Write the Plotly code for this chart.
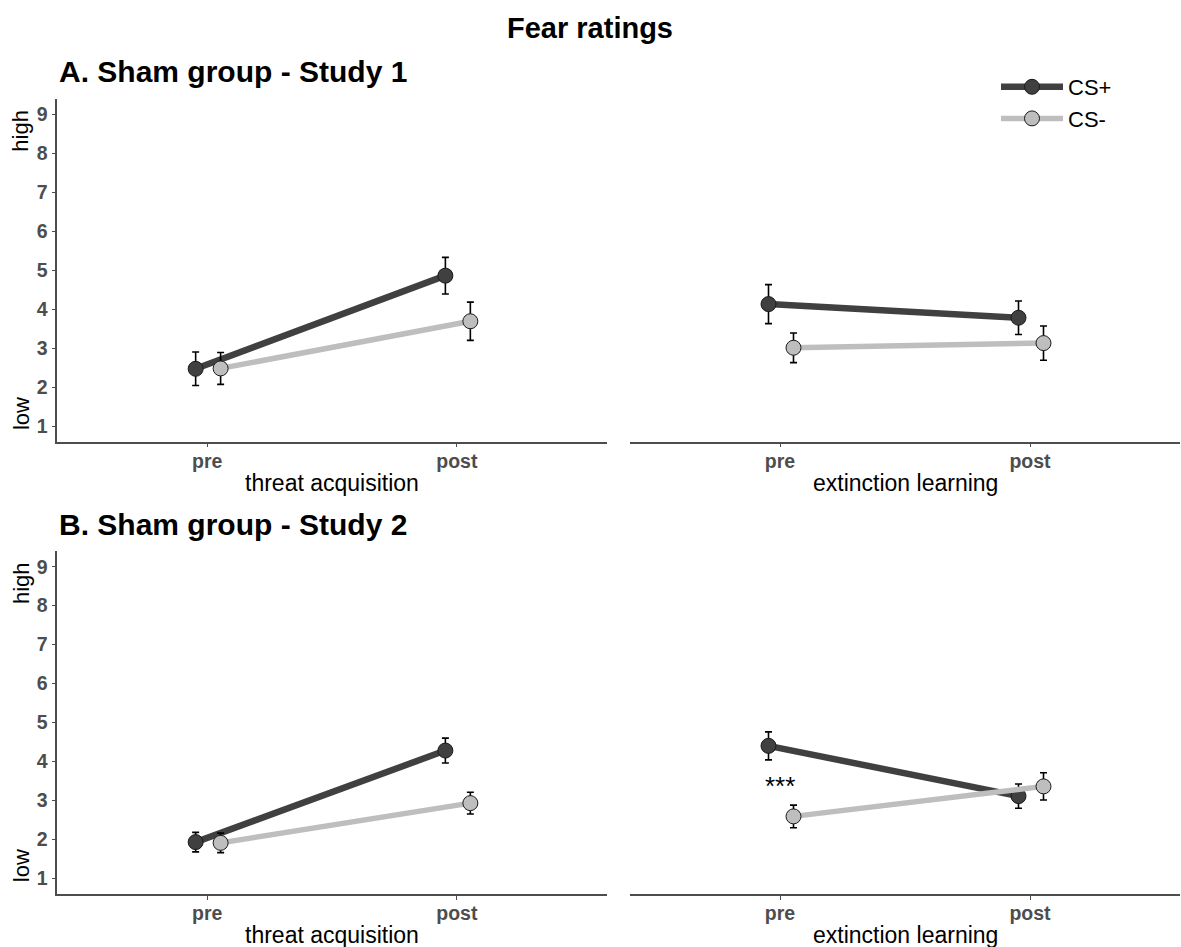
import plotly.graph_objects as go

# ---------------- data ----------------
phases = ["pre", "post"]
phase_pos = [1, 2]
conditions = ["CS+", "CS-"]

s1_acq_csp = [2.47, 4.86]
s1_acq_csp_err = [0.43, 0.47]
s1_acq_csm = [2.48, 3.69]
s1_acq_csm_err = [0.41, 0.49]

s1_ext_csp = [4.13, 3.78]
s1_ext_csp_err = [0.50, 0.43]
s1_ext_csm = [3.01, 3.13]
s1_ext_csm_err = [0.38, 0.44]

s2_acq_csp = [1.93, 4.28]
s2_acq_csp_err = [0.25, 0.32]
s2_acq_csm = [1.91, 2.93]
s2_acq_csm_err = [0.25, 0.28]

s2_ext_csp = [4.40, 3.11]
s2_ext_csp_err = [0.36, 0.31]
s2_ext_csm = [2.59, 3.36]
s2_ext_csm_err = [0.29, 0.35]

y_ticks = [1, 2, 3, 4, 5, 6, 7, 8, 9]
x_titles = ["threat acquisition", "extinction learning"]
panel_titles = ["A. Sham group - Study 1", "B. Sham group - Study 2"]
main_title = "Fear ratings"
signif_label = "***"
signif_y = 3.36

# ---------------- style ----------------
W, H = 1181, 947
FONT = "Liberation Sans, Arial, sans-serif"
DARK = "#404040"
LIGHT = "#BEBEBE"
AXC = "#4D4D4D"
dodge = {"CS+": -0.046, "CS-": 0.054}
colors = {"CS+": DARK, "CS-": LIGHT}
lwidth = {"CS+": 6.5, "CS-": 5.5}


def px_x(p):
    return p / W


def px_y(p):
    return 1 - p / H


# domains (from pixel geometry)
xdom = [[px_x(57.3), px_x(606.7)], [px_x(630), px_x(1180)]]
ydom = [[px_y(441.7), px_y(98.7)], [px_y(893.9), px_y(551.1)]]
xtitle_y = [483, 935]

fig = go.Figure()

panels = [
    (0, 0, s1_acq_csp, s1_acq_csp_err, s1_acq_csm, s1_acq_csm_err),
    (0, 1, s1_ext_csp, s1_ext_csp_err, s1_ext_csm, s1_ext_csm_err),
    (1, 0, s2_acq_csp, s2_acq_csp_err, s2_acq_csm, s2_acq_csm_err),
    (1, 1, s2_ext_csp, s2_ext_csp_err, s2_ext_csm, s2_ext_csm_err),
]

annotations = []
layout_axes = {}
for idx, (row, col, csp, csp_e, csm, csm_e) in enumerate(panels):
    n = idx + 1
    xa = "x" if n == 1 else f"x{n}"
    ya = "y" if n == 1 else f"y{n}"
    for cond, vals, errs in (("CS+", csp, csp_e), ("CS-", csm, csm_e)):
        fig.add_trace(go.Scatter(
            x=[p + dodge[cond] for p in phase_pos],
            y=vals,
            mode="lines+markers",
            name=cond,
            showlegend=(n == 1),
            line=dict(color=colors[cond], width=lwidth[cond]),
            marker=dict(size=15, color=colors[cond],
                        line=dict(color="#1a1a1a", width=1)),
            error_y=dict(type="data", array=errs, visible=True,
                         color="black", thickness=1.6, width=3.5),
            xaxis=xa, yaxis=ya,
            hoverinfo="skip",
        ))
    xkey = "xaxis" if n == 1 else f"xaxis{n}"
    ykey = "yaxis" if n == 1 else f"yaxis{n}"
    layout_axes[xkey] = dict(
        domain=xdom[col], anchor=ya, range=[0.4, 2.6],
        tickvals=phase_pos, ticktext=phases,
        showline=True, linecolor=AXC, linewidth=1.5,
        ticks="outside", ticklen=4, tickcolor=AXC, tickwidth=1.2,
        ticklabelstandoff=-3,
        tickfont=dict(family=FONT, size=19.5, color=AXC, weight="bold"),
        showgrid=False, zeroline=False, fixedrange=True,
    )
    # x-axis title, centred under the panel
    annotations.append(dict(text=x_titles[col],
                            x=(xdom[col][0] + xdom[col][1]) / 2,
                            y=px_y(xtitle_y[row]),
                            xref="paper", yref="paper", showarrow=False,
                            xanchor="center", yanchor="middle",
                            font=dict(family=FONT, size=23, color="black")))
    if col == 0:
        layout_axes[ykey] = dict(
            domain=ydom[row], anchor=xa, range=[0.6, 9.4],
            tickvals=y_ticks,
            showline=True, linecolor=AXC, linewidth=1.5,
            ticks="outside", ticklen=4, tickcolor=AXC, tickwidth=1.2,
            tickfont=dict(family=FONT, size=19.5, color=AXC, weight="bold"),
            showgrid=False, zeroline=False, fixedrange=True,
        )
    else:
        layout_axes[ykey] = dict(
            domain=ydom[row], anchor=xa, range=[0.6, 9.4],
            showline=False, showticklabels=False, ticks="",
            showgrid=False, zeroline=False, fixedrange=True,
        )

fig.update_layout(**layout_axes)

# main title
annotations.append(dict(text=f"<b>{main_title}</b>", x=px_x(590), y=px_y(28),
                        xref="paper", yref="paper", showarrow=False,
                        xanchor="center", yanchor="middle",
                        font=dict(family=FONT, size=29, color="black")))
# panel titles (aligned with the panel's left edge)
for row, t in enumerate(panel_titles):
    annotations.append(dict(text=f"<b>{t}</b>", x=xdom[0][0],
                            y=px_y(72 if row == 0 else 524),
                            xref="paper", yref="paper", showarrow=False,
                            xanchor="left", yanchor="middle",
                            font=dict(family=FONT, size=30, color="black")))
# high / low y labels
for row in range(2):
    ya = "y" if row == 0 else "y3"
    for lab, yv in (("high", 8.58), ("low", 1.31)):
        annotations.append(dict(text=lab, x=px_x(21), y=yv,
                                xref="paper", yref=ya, showarrow=False,
                                textangle=-90, xanchor="center",
                                yanchor="middle",
                                font=dict(family=FONT, size=22,
                                          color="black")))
# significance
annotations.append(dict(text=signif_label, x=phase_pos[0], y=signif_y,
                        xref="x4", yref="y4", showarrow=False,
                        xanchor="center", yanchor="middle",
                        font=dict(family=FONT, size=26, color="black")))

fig.update_layout(
    width=W, height=H,
    margin=dict(l=0, r=0, t=0, b=0),
    paper_bgcolor="white", plot_bgcolor="white",
    annotations=annotations,
    legend=dict(x=px_x(996), y=px_y(66), xanchor="left", yanchor="top",
                font=dict(family=FONT, size=22, color="black"),
                bgcolor="rgba(0,0,0,0)", itemwidth=62),
    font=dict(family=FONT),
)

fig.write_html(
    "out.html",
    config={"displayModeBar": False},
    post_script="document.body.style.margin='0';"
                "document.body.style.overflow='hidden';",
)
